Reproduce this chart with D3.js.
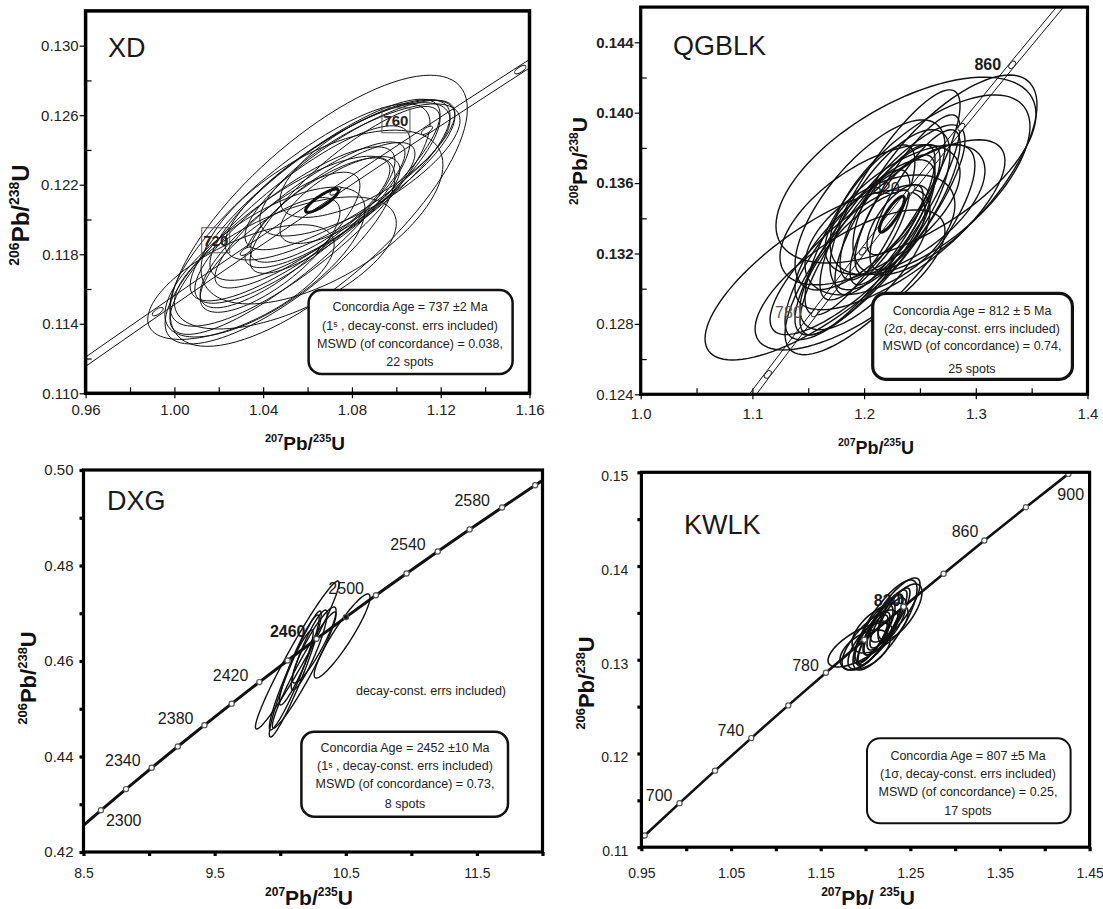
<!DOCTYPE html>
<html>
<head>
<meta charset="utf-8">
<script src="https://cdn.jsdelivr.net/npm/d3@7/dist/d3.min.js"></script>
<style>
  body { margin: 0; background: #fff; }
  svg { display: block; font-family: 'Liberation Sans', Arial, Helvetica, sans-serif; }
</style>
</head>
<body>
<svg id="chart" width="1103" height="909"></svg>
<script>
// ---------------- data ----------------
// concordia nodes: [age Ma, 207Pb/235U, 206Pb/238U]
const xdConcordia = [[680, 0.95365, 0.11125], [700, 0.99251, 0.11470], [720, 1.03215, 0.11817], [740, 1.07257, 0.12164], [760, 1.11380, 0.12513], [780, 1.15585, 0.12862], [800, 1.19873, 0.13213]]
const qgConcordia = [[720, 1.03215, 0.11817], [740, 1.07257, 0.12164], [760, 1.11380, 0.12513], [780, 1.15585, 0.12862], [800, 1.19873, 0.13213], [820, 1.24247, 0.13565], [840, 1.28708, 0.13918], [860, 1.33257, 0.14272], [880, 1.37897, 0.14627]]
const dxConcordia = [[2280, 8.4447, 0.42427], [2300, 8.6326, 0.42873], [2320, 8.8242, 0.43317], [2340, 9.0196, 0.43763], [2360, 9.2190, 0.44209], [2380, 9.4223, 0.44657], [2400, 9.6296, 0.45107], [2420, 9.8410, 0.45558], [2440, 10.0567, 0.46010], [2460, 10.2767, 0.46464], [2480, 10.5010, 0.46919], [2500, 10.7298, 0.47376], [2520, 10.9631, 0.47833], [2540, 11.2011, 0.48293], [2560, 11.4438, 0.48754], [2580, 11.6914, 0.49216], [2600, 11.9438, 0.49680], [2620, 12.2013, 0.50145]]
const kwConcordia = [[660, 0.91554, 0.10781], [680, 0.95365, 0.11125], [700, 0.99251, 0.11470], [720, 1.03215, 0.11817], [740, 1.07257, 0.12164], [760, 1.11380, 0.12513], [780, 1.15585, 0.12862], [800, 1.19873, 0.13213], [820, 1.24247, 0.13565], [840, 1.28708, 0.13918], [860, 1.33257, 0.14272], [880, 1.37897, 0.14627], [900, 1.42629, 0.14983], [920, 1.47456, 0.15340]]

// spot error ellipses: [x centre, y centre, x half-extent, y half-extent, error correlation]
const xdEllipses = [
  [1.0650, 0.12050, 0.0670, 0.00780, 0.75], [1.0665, 0.12014, 0.0545, 0.00500, 0.60],
  [1.0408, 0.11755, 0.0451, 0.00431, 0.70], [1.0476, 0.11824, 0.0518, 0.00540, 0.78],
  [1.0300, 0.11640, 0.0420, 0.00330, 0.65], [1.0566, 0.12026, 0.0586, 0.00640, 0.82],
  [1.0634, 0.12112, 0.0563, 0.00580, 0.85], [1.0701, 0.12170, 0.0541, 0.00520, 0.82],
  [1.0746, 0.12227, 0.0518, 0.00460, 0.80], [1.0791, 0.12256, 0.0473, 0.00430, 0.82],
  [1.0836, 0.12285, 0.0451, 0.00380, 0.75], [1.0543, 0.11968, 0.0451, 0.00450, 0.82],
  [1.0611, 0.12026, 0.0428, 0.00420, 0.85], [1.0701, 0.12083, 0.0383, 0.00360, 0.82],
  [1.0656, 0.12054, 0.0315, 0.00300, 0.78], [1.0746, 0.12112, 0.0270, 0.00250, 0.70],
  [1.0476, 0.11882, 0.0360, 0.00390, 0.80], [1.0431, 0.11796, 0.0315, 0.00330, 0.75],
  [1.0859, 0.12342, 0.0383, 0.00330, 0.70], [1.0521, 0.11939, 0.0541, 0.00600, 0.85],
  [1.0769, 0.12170, 0.0428, 0.00480, 0.85], [1.0500, 0.11750, 0.0500, 0.00380, 0.60]
]
const qgEllipses = [
  [1.2375, 0.13674, 0.1164, 0.00528, 0.60], [1.1561, 0.13078, 0.0985, 0.00483, 0.75],
  [1.2724, 0.13646, 0.0824, 0.00568, 0.70], [1.2590, 0.13590, 0.0895, 0.00511, 0.65],
  [1.2142, 0.13334, 0.0761, 0.00597, 0.85], [1.2053, 0.13278, 0.0627, 0.00540, 0.85],
  [1.1963, 0.13222, 0.0671, 0.00511, 0.80], [1.2232, 0.13449, 0.0537, 0.00455, 0.70],
  [1.2187, 0.13392, 0.0448, 0.00426, 0.80], [1.2277, 0.13420, 0.0358, 0.00341, 0.75],
  [1.2053, 0.13420, 0.0806, 0.00398, 0.60], [1.1874, 0.13165, 0.0716, 0.00426, 0.80],
  [1.2366, 0.13505, 0.0492, 0.00483, 0.85], [1.2456, 0.13505, 0.0403, 0.00398, 0.80],
  [1.2098, 0.13363, 0.0313, 0.00313, 0.70], [1.2142, 0.13306, 0.0671, 0.00341, 0.50],
  [1.2321, 0.13363, 0.0940, 0.00483, 0.75], [1.2008, 0.13165, 0.0582, 0.00398, 0.70],
  [1.2232, 0.13533, 0.0627, 0.00597, 0.85], [1.2142, 0.13222, 0.0850, 0.00597, 0.80],
  [1.2366, 0.13449, 0.0716, 0.00369, 0.60], [1.2053, 0.13476, 0.0671, 0.00483, 0.70],
  [1.1963, 0.13334, 0.0492, 0.00483, 0.80], [1.2277, 0.13392, 0.0251, 0.00199, 0.70],
  [1.1874, 0.13050, 0.0850, 0.00398, 0.70]
]
const dxEllipses = [
  [10.130, 0.46126, 0.319, 0.01550, 0.97], [10.115, 0.45728, 0.198, 0.01319, 0.95],
  [10.472, 0.46524, 0.213, 0.00880, 0.92], [10.183, 0.45812, 0.243, 0.01215, 0.96],
  [10.145, 0.46021, 0.152, 0.00942, 0.93], [10.221, 0.46230, 0.137, 0.00838, 0.90],
  [10.084, 0.45602, 0.167, 0.01047, 0.94], [10.259, 0.46335, 0.167, 0.00796, 0.90]
]
const kwEllipses = [
  [1.2218, 0.13371, 0.0357, 0.00480, 0.80], [1.2329, 0.13531, 0.0279, 0.00342, 0.80],
  [1.1939, 0.13158, 0.0357, 0.00235, 0.70], [1.2050, 0.13211, 0.0312, 0.00320, 0.75],
  [1.2162, 0.13318, 0.0245, 0.00374, 0.85], [1.2106, 0.13297, 0.0223, 0.00320, 0.80],
  [1.2218, 0.13403, 0.0201, 0.00299, 0.80], [1.2139, 0.13318, 0.0167, 0.00267, 0.75],
  [1.2072, 0.13233, 0.0201, 0.00277, 0.80], [1.2273, 0.13446, 0.0223, 0.00320, 0.85],
  [1.2184, 0.13339, 0.0279, 0.00406, 0.88], [1.2028, 0.13158, 0.0223, 0.00256, 0.70],
  [1.2296, 0.13425, 0.0156, 0.00235, 0.70], [1.2117, 0.13265, 0.0134, 0.00213, 0.75],
  [1.2385, 0.13510, 0.0245, 0.00299, 0.70], [1.1994, 0.13105, 0.0279, 0.00213, 0.50],
  [1.2162, 0.13339, 0.0312, 0.00267, 0.60]
]
// concordia-age ellipses (drawn heavy)
const xdMean = [1.0665, 0.12108, 0.0074, 0.00067, 0.85]
const qgMean = [1.2249, 0.13423, 0.0112, 0.00102, 0.85]

// half width (in 207Pb/235U) of the decay-constant error band
const xdBand = 0.0030
const qgBand = 0.0032

// axis ticks
const xdXTicks = [0.96, 1.00, 1.04, 1.08, 1.12, 1.16]
const xdXMinor = [0.98, 1.02, 1.06, 1.10, 1.14]
const xdYTicks = [0.110, 0.114, 0.118, 0.122, 0.126, 0.130]
const xdYMinor = [0.112, 0.116, 0.120, 0.124, 0.128]
const qgXTicks = [1.0, 1.1, 1.2, 1.3, 1.4]
const qgXMinor = [1.05, 1.15, 1.25, 1.35]
const qgYTicks = [0.124, 0.128, 0.132, 0.136, 0.140, 0.144]
const qgYMinor = [0.126, 0.130, 0.134, 0.138, 0.142]
const dxXTicks = [8.5, 9.5, 10.5, 11.5]
const dxXMinor = [8.5, 9.0, 9.5, 10.0, 10.5, 11.0, 11.5, 12.0]
const dxYTicks = [0.42, 0.44, 0.46, 0.48, 0.50]
const dxYMinor = [0.42, 0.43, 0.44, 0.45, 0.46, 0.47, 0.48, 0.49, 0.50]
const kwXTicks = [0.95, 1.05, 1.15, 1.25, 1.35, 1.45]
const kwXMinor = [0.95, 1.00, 1.05, 1.10, 1.15, 1.20, 1.25, 1.30, 1.35, 1.40, 1.45]
const kwYTicks = [0.11, 0.12, 0.13, 0.14, 0.15]
const kwYMinor = [0.11, 0.115, 0.12, 0.125, 0.13, 0.135, 0.14, 0.145, 0.15]

// result boxes ({s} = the small sigma glyph of the original)
const xdStats = ['Concordia Age = 737 ±2 Ma', '(1{s} , decay-const. errs included)', 'MSWD (of concordance) = 0.038,', '22 spots']
const qgStats = ['Concordia Age = 812 ±  5 Ma', '(2σ, decay-const. errs included)', 'MSWD (of concordance) = 0.74,', '25 spots']
const dxStats = ['Concordia Age = 2452 ±10 Ma', '(1{s} , decay-const. errs included)', 'MSWD (of concordance) = 0.73,', '8 spots']
const kwStats = ['Concordia Age = 807 ±5 Ma', '(1σ, decay-const. errs included)', 'MSWD (of concordance) = 0.25,', '17 spots']

// ---------------- layout / style ----------------
const panels = [
  {
    name: 'XD', conc: xdConcordia, ellipses: xdEllipses, mean: xdMean, band: xdBand,
    xDomain: [0.96, 1.16], yDomain: [0.110, 0.132], xRange: [85.6, 529.5], yRange: [393.3, 10.9],
    xTicks: xdXTicks, xMinor: xdXMinor, yTicks: xdYTicks, yMinor: xdYMinor, xFmt: '.2f', yFmt: '.3f',
    tickStyle: 'line', tickFont: 15, xFont: 15, xPad: 6, yPad: 1, frameW: 3.5, spotW: 1,
    marker: { rx: 6.5, ry: 2.6 },
    labels: [{ age: 720, dx: -30, dy: -11, box: true }, { age: 760, dx: -31, dy: -10, box: true }],
    labelFont: 15,
    name_xy: [108, 57],
    xTitle: { x: 305, y: 450, size: 19, sup: 11, parts: [['207', 1], ['Pb/', 0], ['235', 1], ['U', 0]] },
    yTitle: { x: 29, y: 215, size: 24, sup: 14, parts: [['206', 1], ['Pb/', 0], ['238', 1], ['U', 0]] },
    stats: xdStats, box: [308.6, 290, 204, 84], boxW: 2.5, statsX: 410, statsY: [311, 329.5, 348, 366]
  },
  {
    name: 'QGBLK', conc: qgConcordia, ellipses: qgEllipses, mean: qgMean, band: qgBand,
    xDomain: [1.0, 1.4], yDomain: [0.124, 0.146], xRange: [640.7, 1087.5], yRange: [394.3, 7.1],
    xTicks: qgXTicks, xMinor: qgXMinor, yTicks: qgYTicks, yMinor: qgYMinor, xFmt: '.1f', yFmt: '.3f',
    tickStyle: 'line', tickFont: 15, xFont: 15, xPad: 9, yPad: 1, frameW: 3.2, spotW: 1.4,
    boldY: d => d >= 0.132,
    marker: { rx: 4.5, ry: 2.6 },
    labels: [{ age: 780, dx: -13, dy: 5, anchor: 'end', fill: '#555' }, { age: 820, dx: -12, dy: 5, anchor: 'end' }, { age: 860, dx: -11, dy: 5, anchor: 'end', bold: true }],
    labelFont: 16,
    name_xy: [673, 55],
    xTitle: { x: 876, y: 454, size: 18, sup: 10.5, parts: [['207', 1], ['Pb/', 0], ['235', 1], ['U', 0]] },
    yTitle: { x: 587, y: 161, size: 21, sup: 12, parts: [['208', 1], ['Pb/', 0], ['238', 1], ['U', 0]] },
    stats: qgStats, box: [872.7, 293.3, 199.7, 86], boxW: 3.2, statsX: 972, statsY: [314.5, 333, 350, 373]
  },
  {
    name: 'DXG', conc: dxConcordia, ellipses: dxEllipses, band: 0, concW: 3,
    xDomain: [8.5, 12.0], yDomain: [0.42, 0.50], xRange: [83.5, 542.5], yRange: [852, 470],
    xTicks: dxXTicks, xMinor: dxXMinor, yTicks: dxYTicks, yMinor: dxYMinor, xFmt: '.1f', yFmt: '.2f',
    tickStyle: 'dot', tickFont: 15, xFont: 14, xPad: 16, yPad: 10, frameW: 3.2, spotW: 1.4,
    filled: [2480],
    labels: [{ age: 2300, dx: 5, dy: 16, anchor: 'start' }, { age: 2340, dx: -11, dy: -1.5, anchor: 'end' },
      { age: 2380, dx: -11, dy: -1.5, anchor: 'end' }, { age: 2420, dx: -11, dy: -1.5, anchor: 'end' },
      { age: 2460, dx: -11, dy: -1.5, anchor: 'end', bold: true }, { age: 2500, dx: -12, dy: -1.5, anchor: 'end' },
      { age: 2540, dx: -12, dy: -1.5, anchor: 'end' }, { age: 2580, dx: -12, dy: -1.5, anchor: 'end' }],
    labelFont: 16,
    name_xy: [107, 510],
    xTitle: { x: 309, y: 905, size: 21, sup: 12, parts: [['207', 1], ['Pb/', 0], ['235', 1], ['U', 0]] },
    yTitle: { x: 36, y: 678, size: 22, sup: 13, parts: [['206', 1], ['Pb/', 0], ['238', 1], ['U', 0]] },
    stats: dxStats, box: [301.4, 731.7, 206.6, 85], boxW: 2.5, statsX: 405, statsY: [752, 770, 788, 808],
    note: { text: 'decay-const. errs included)', x: 431, y: 695 }
  },
  {
    name: 'KWLK', conc: kwConcordia, ellipses: kwEllipses, band: 0, concW: 2.6,
    xDomain: [0.95, 1.45], yDomain: [0.11, 0.15], xRange: [641.4, 1089.6], yRange: [847.2, 472.3],
    xTicks: kwXTicks, xMinor: kwXMinor, yTicks: kwYTicks, yMinor: kwYMinor, xFmt: '.2f', yFmt: '.2f',
    tickStyle: 'dot', tickFont: 14, xFont: 14, xPad: 21, yPad: 13, yShift: 4, frameW: 3.2, spotW: 1.6,
    labels: [{ age: 700, dx: -7, dy: -2, anchor: 'end' }, { age: 740, dx: -7, dy: -2, anchor: 'end' },
      { age: 780, dx: -7, dy: -2, anchor: 'end' }, { age: 820, dx: -3, dy: -1, anchor: 'end', bold: true },
      { age: 860, dx: -6, dy: -4, anchor: 'end' }, { age: 900, dx: -11, dy: 26, anchor: 'start' }],
    labelFont: 16,
    name_xy: [684, 534],
    xTitle: { x: 868, y: 905, size: 21, sup: 12, parts: [['207', 1], ['Pb/ ', 0], ['235', 1], ['U', 0]] },
    yTitle: { x: 594, y: 683, size: 22, sup: 13, parts: [['206', 1], ['Pb/', 0], ['238', 1], ['U', 0]] },
    stats: kwStats, box: [867, 738.3, 203.6, 85], boxW: 2, statsX: 968, statsY: [759.5, 778, 796, 815]
  }
]

const svg = d3.select('#chart')
const INK = '#111'

// error ellipse outline from half-extents and correlation
function ellipsePath (e, x, y) {
  const [cx, cy, sx, sy, rho] = e
  const k = Math.sqrt(1 - rho * rho)
  const pts = d3.range(96).map(i => {
    const t = i / 96 * 2 * Math.PI
    return [x(cx + sx * Math.cos(t)), y(cy + sy * (rho * Math.cos(t) + k * Math.sin(t)))]
  })
  return d3.line().curve(d3.curveLinearClosed)(pts)
}

// 206Pb/238U style title with superscript mass numbers
function isoTitle (g, t) {
  const text = g.append('text')
    .attr('text-anchor', 'middle')
    .attr('font-weight', 'bold')
    .attr('font-size', t.size)
    .attr('fill', INK)
  let raised = false
  t.parts.forEach(([s, sup]) => {
    const ts = text.append('tspan').text(s).attr('xml:space', 'preserve')
    if (sup) {
      ts.attr('font-size', t.sup).attr('dy', raised ? 0 : -t.size * 0.42)
      raised = true
    } else {
      ts.attr('dy', raised ? t.size * 0.42 : 0)
      raised = false
    }
  })
  return text
}

function drawPanel (p, idx) {
  const x = d3.scaleLinear().domain(p.xDomain).range(p.xRange)
  const y = d3.scaleLinear().domain(p.yDomain).range(p.yRange)
  const g = svg.append('g')
  const left = p.xRange[0]
  const right = p.xRange[1]
  const top = p.yRange[1]
  const bottom = p.yRange[0]

  const clipId = 'clip' + idx
  svg.append('clipPath').attr('id', clipId).append('rect')
    .attr('x', left).attr('y', top).attr('width', right - left).attr('height', bottom - top)
  const plot = g.append('g').attr('clip-path', 'url(#' + clipId + ')')

  // spot ellipses
  plot.append('g').selectAll('path')
    .data(p.ellipses)
    .enter().append('path')
    .attr('d', d => ellipsePath(d, x, y))
    .attr('fill', 'none')
    .attr('stroke', INK)
    .attr('stroke-width', p.spotW)

  // concordia
  const byAge = new Map(p.conc.map(d => [d[0], d]))
  if (p.band) {
    [-p.band, p.band].forEach(off => {
      plot.append('path')
        .attr('d', d3.line().curve(d3.curveMonotoneX)
          .x(d => x(d[1] + off)).y(d => y(d[2]))(p.conc))
        .attr('fill', 'none').attr('stroke', INK).attr('stroke-width', 1)
    })
    // age markers: small ellipses lying along the band
    plot.append('g').selectAll('ellipse')
      .data(p.conc.slice(1, -1))
      .enter().append('ellipse')
      .attr('rx', p.marker.rx).attr('ry', p.marker.ry)
      .attr('transform', (d, i) => {
        const a = p.conc[i]
        const b = p.conc[i + 2]
        const ang = Math.atan2(y(b[2]) - y(a[2]), x(b[1]) - x(a[1])) * 180 / Math.PI
        return 'translate(' + x(d[1]) + ',' + y(d[2]) + ') rotate(' + ang + ')'
      })
      .attr('fill', '#fff').attr('stroke', INK).attr('stroke-width', 0.9)
  } else {
    plot.append('path')
      .attr('d', d3.line().curve(d3.curveMonotoneX).x(d => x(d[1])).y(d => y(d[2]))(p.conc))
      .attr('fill', 'none').attr('stroke', INK).attr('stroke-width', p.concW)
    plot.append('g').selectAll('circle')
      .data(p.conc)
      .enter().append('circle')
      .attr('cx', d => x(d[1])).attr('cy', d => y(d[2])).attr('r', 2.6)
      .attr('fill', d => (p.filled || []).includes(d[0]) ? INK : '#fff')
      .attr('stroke', '#555').attr('stroke-width', 1.2)
  }

  // concordia-age ellipse
  if (p.mean) {
    plot.append('path').attr('d', ellipsePath(p.mean, x, y))
      .attr('fill', 'none').attr('stroke', INK).attr('stroke-width', 3)
  }

  // age labels
  p.labels.forEach(l => {
    const d = byAge.get(l.age)
    const mx = x(d[1])
    const my = y(d[2])
    if (l.box) {
      g.append('rect')
        .attr('x', mx + l.dx - 14).attr('y', my + l.dy - 12.5).attr('width', 28).attr('height', 25)
        .attr('fill', 'none').attr('stroke', '#444').attr('stroke-width', 0.9)
      g.append('text').attr('x', mx + l.dx).attr('y', my + l.dy + 5.5)
        .attr('text-anchor', 'middle').attr('font-size', p.labelFont).attr('font-weight', 'bold')
        .attr('fill', '#222').text(l.age)
    } else {
      g.append('text').attr('x', mx + l.dx).attr('y', my + l.dy)
        .attr('text-anchor', l.anchor).attr('font-size', p.labelFont)
        .attr('font-weight', l.bold ? 'bold' : 'normal')
        .attr('fill', l.fill || '#1a1a1a').text(l.age)
    }
  })

  if (p.note) {
    g.append('text').attr('x', p.note.x).attr('y', p.note.y).attr('text-anchor', 'middle')
      .attr('font-size', 12.5).attr('fill', '#222').text(p.note.text)
  }

  // result box
  const [bx, by, bw, bh] = p.box
  g.append('rect').attr('x', bx).attr('y', by).attr('width', bw).attr('height', bh)
    .attr('rx', 13).attr('ry', 13)
    .attr('fill', '#fff').attr('stroke', INK).attr('stroke-width', p.boxW)
  p.stats.forEach((s, i) => {
    const t = g.append('text').attr('x', p.statsX).attr('y', p.statsY[i])
      .attr('text-anchor', 'middle').attr('font-size', 12.5).attr('fill', '#222')
    const bits = s.split('{s}')
    t.append('tspan').text(bits[0])
    if (bits.length > 1) {
      t.append('tspan').attr('font-size', 8.5).attr('dy', -2.5).text('s')
      t.append('tspan').attr('dy', 2.5).text(bits[1])
    }
  })

  // frame
  g.append('rect').attr('x', left).attr('y', top).attr('width', right - left).attr('height', bottom - top)
    .attr('fill', 'none').attr('stroke', '#000').attr('stroke-width', p.frameW)

  // axes
  const styleText = (sel, size) => sel.selectAll('text')
    .attr('font-size', size).attr('font-family', null).attr('fill', '#222')
  if (p.tickStyle === 'line') {
    g.append('g').attr('transform', 'translate(0,' + bottom + ')')
      .call(d3.axisBottom(x).tickValues(p.xTicks).tickFormat(d3.format(p.xFmt)).tickSize(5).tickPadding(p.xPad))
      .call(a => a.select('.domain').remove())
      .call(a => a.selectAll('line').attr('stroke-width', 1.2))
      .call(a => styleText(a, p.xFont))
    g.append('g').attr('transform', 'translate(0,' + bottom + ')')
      .call(d3.axisBottom(x).tickValues(p.xMinor.concat(p.xTicks)).tickFormat('').tickSize(-6))
      .call(a => a.select('.domain').remove())
      .call(a => a.selectAll('line').attr('stroke-width', 1.2))
    g.append('g').attr('transform', 'translate(' + left + ',0)')
      .call(d3.axisLeft(y).tickValues(p.yTicks).tickFormat(d3.format(p.yFmt)).tickSize(6).tickPadding(p.yPad))
      .call(a => a.select('.domain').remove())
      .call(a => a.selectAll('line').attr('stroke-width', 1.2))
      .call(a => styleText(a, p.tickFont))
      .call(a => { if (p.boldY) a.selectAll('text').attr('font-weight', d => p.boldY(d) ? 'bold' : 'normal') })
    g.append('g').attr('transform', 'translate(' + left + ',0)')
      .call(d3.axisLeft(y).tickValues(p.yMinor).tickFormat('').tickSize(-6))
      .call(a => a.select('.domain').remove())
      .call(a => a.selectAll('line').attr('stroke-width', 1.2))
  } else {
    // dot-like tick marks sitting on the frame
    g.append('g').attr('transform', 'translate(0,' + bottom + ')')
      .call(d3.axisBottom(x).tickValues(p.xMinor).tickFormat('').tickSize(4))
      .call(a => a.select('.domain').remove())
      .call(a => a.selectAll('line').attr('stroke-width', 3.2))
    g.append('g').attr('transform', 'translate(0,' + bottom + ')')
      .call(d3.axisBottom(x).tickValues(p.xTicks).tickFormat(d3.format(p.xFmt)).tickSize(0).tickPadding(p.xPad))
      .call(a => a.select('.domain').remove())
      .call(a => styleText(a, p.xFont))
    g.append('g').attr('transform', 'translate(' + left + ',0)')
      .call(d3.axisLeft(y).tickValues(p.yMinor).tickFormat('').tickSize(4))
      .call(a => a.select('.domain').remove())
      .call(a => a.selectAll('line').attr('stroke-width', 3.2))
    g.append('g').attr('transform', 'translate(' + left + ',' + (p.yShift || 0) + ')')
      .call(d3.axisLeft(y).tickValues(p.yTicks).tickFormat(d3.format(p.yFmt)).tickSize(0).tickPadding(p.yPad))
      .call(a => a.select('.domain').remove())
      .call(a => styleText(a, p.tickFont))
  }

  // sample name
  g.append('text').attr('x', p.name_xy[0]).attr('y', p.name_xy[1])
    .attr('font-size', 27).attr('fill', '#1a1a1a').text(p.name)

  // axis titles
  isoTitle(g, p.xTitle).attr('x', p.xTitle.x).attr('y', p.xTitle.y)
  isoTitle(g, p.yTitle).attr('transform', 'translate(' + p.yTitle.x + ',' + p.yTitle.y + ') rotate(-90)')
}

panels.forEach(drawPanel)
</script>
</body>
</html>
